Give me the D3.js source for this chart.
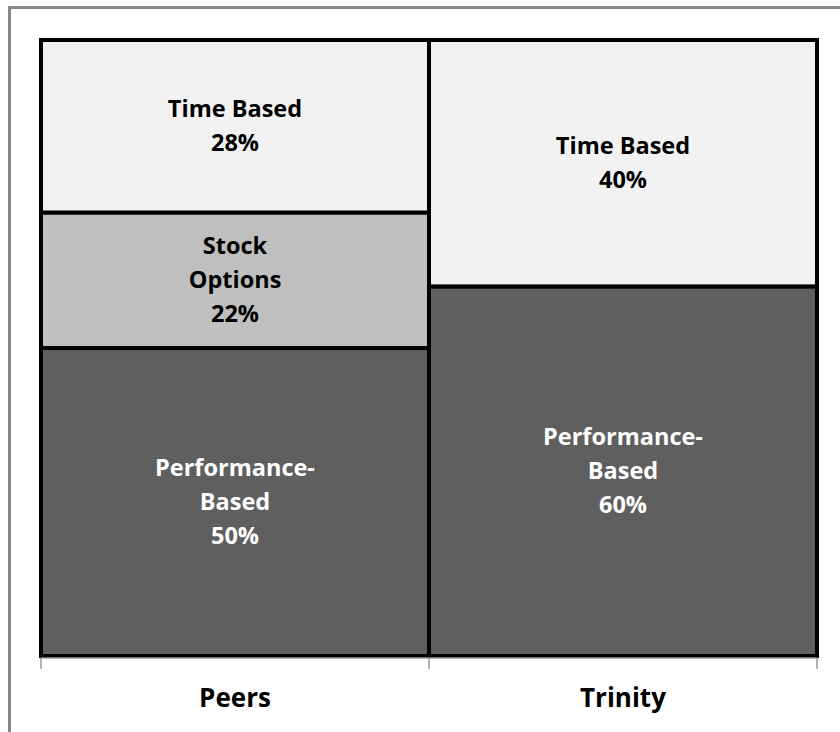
<!DOCTYPE html>
<html>
<head>
<meta charset="utf-8">
<script src="https://cdn.jsdelivr.net/npm/d3@7"></script>
<style>
  body { margin: 0; background: #fff; }
  svg text { font-family: "Open Sans", sans-serif; font-weight: bold; }
</style>
</head>
<body>
<svg id="chart" width="840" height="732"></svg>
<script>
// categories and stacked values (bottom to top)
var categories = ["Peers", "Trinity"];
var seriesNames = ["Performance-Based", "Stock Options", "Time Based"];
var peersValues = [50, 22, 28];
var trinityValues = [60, 0, 40];
// label lines for each segment
var peersLabels = [["Performance-", "Based", "50%"], ["Stock", "Options", "22%"], ["Time Based", "28%"]];
var trinityLabels = [["Performance-", "Based", "60%"], [], ["Time Based", "40%"]];

var colors = { "Performance-Based": "#5f5f5f", "Stock Options": "#bfbfbf", "Time Based": "#f2f2f2" };
var textColors = { "Performance-Based": "#ffffff", "Stock Options": "#000000", "Time Based": "#000000" };

var svg = d3.select("#chart");

// outer grey frame (only left and top edges visible in picture)
svg.append("rect")
  .attr("x", 9.5).attr("y", 7.5)
  .attr("width", 860).attr("height", 760)
  .attr("fill", "none")
  .attr("stroke", "#888")
  .attr("stroke-width", 3);

var margin = {top: 40, left: 41, right: 23, bottom: 76},
    width = 840 - margin.left - margin.right,
    height = 732 - margin.top - margin.bottom;

var g = svg.append("g")
  .attr("transform", "translate(" + margin.left + "," + margin.top + ")");

var x = d3.scaleBand().domain(categories).range([0, width]).padding(0);
var y = d3.scaleLinear().domain([0, 100]).range([height, 0]);

var rows = [peersValues, trinityValues];
var labels = [peersLabels, trinityLabels];

var data = categories.map(function(c, i) {
  var obj = {cat: c};
  seriesNames.forEach(function(s, j) { obj[s] = rows[i][j]; });
  return obj;
});

var stack = d3.stack().keys(seriesNames);
var stacked = stack(data);

stacked.forEach(function(layer, j) {
  var key = layer.key;
  layer.forEach(function(d, i) {
    if (d[1] - d[0] <= 0) return;
    var x0 = x(categories[i]);
    g.append("rect")
      .attr("x", x0)
      .attr("y", y(d[1]))
      .attr("width", x.bandwidth())
      .attr("height", y(d[0]) - y(d[1]))
      .attr("fill", colors[key])
      .attr("stroke", "#000")
      .attr("stroke-width", 4);

    var lines = labels[i][j];
    var lh = 34;
    var cy = (y(d[0]) + y(d[1])) / 2;
    var startY = cy - (lines.length - 1) * lh / 2;
    lines.forEach(function(t, k) {
      g.append("text")
        .attr("x", x0 + x.bandwidth() / 2)
        .attr("y", startY + k * lh)
        .attr("dy", "0.35em")
        .attr("text-anchor", "middle")
        .attr("fill", textColors[key])
        .style("font-size", "23.5px")
        .text(t);
    });
  });
});

// x axis with ticks at band edges
var axis = g.append("g").attr("transform", "translate(0," + (height + 2) + ")");
axis.append("line")
  .attr("x1", 0).attr("x2", width)
  .attr("stroke", "#999").attr("stroke-width", 1.5);
var edges = [0].concat(categories.map(function(c) { return x(c) + x.bandwidth(); }));
edges.forEach(function(e) {
  axis.append("line")
    .attr("x1", e).attr("x2", e)
    .attr("y1", 0).attr("y2", 11)
    .attr("stroke", "#999").attr("stroke-width", 1.5);
});
categories.forEach(function(c) {
  axis.append("text")
    .attr("x", x(c) + x.bandwidth() / 2)
    .attr("y", 40)
    .attr("dy", "0.35em")
    .attr("text-anchor", "middle")
    .attr("fill", "#000")
    .style("font-size", "26px")
    .text(c);
});
</script>
</body>
</html>
